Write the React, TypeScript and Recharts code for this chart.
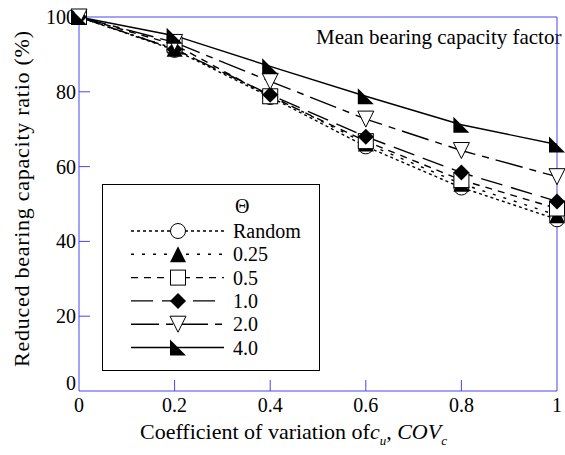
import React from 'react';
import { LineChart, Line, XAxis, YAxis, ReferenceLine, Legend, Customized } from 'recharts';

const covValues = [0, 0.2, 0.4, 0.6, 0.8, 1.0];
const xTicks = [0, 0.2, 0.4, 0.6, 0.8, 1];
const yTicks = [0, 20, 40, 60, 80, 100];

const randomVals = [100, 91.2, 78.6, 65.4, 54.4, 45.9];
const theta025Vals = [100, 91.5, 79.0, 66.2, 55.4, 47.0];
const theta05Vals = [100, 92.6, 78.8, 66.8, 56.4, 48.8];
const theta1Vals = [100, 91.4, 79.2, 68.0, 58.4, 50.7];
const theta2Vals = [100, 93.2, 82.8, 72.7, 64.3, 57.3];
const theta4Vals = [100, 95.0, 86.8, 78.8, 71.2, 65.9];

const seriesNames = ['Random', '0.25', '0.5', '1.0', '2.0', '4.0'];

const data = covValues.map((cov, i) => ({
  cov,
  s0: randomVals[i],
  s1: theta025Vals[i],
  s2: theta05Vals[i],
  s3: theta1Vals[i],
  s4: theta2Vals[i],
  s5: theta4Vals[i],
}));

const AXIS = '#4646f0';
const FONT = 'Liberation Serif';
const LEFT = 79;
const BOTTOM = 391;

const dashes = ['3 3', '3 8', '7 6', '22 9', '28 7 7 7', undefined];

// marker shapes
const drawMarker = (kind: number, cx: number, cy: number, key?: string | number) => {
  const s = 8;
  switch (kind) {
    case 0:
      return <circle key={key} cx={cx} cy={cy} r={7.5} fill="#fff" stroke="#000" strokeWidth={1} />;
    case 1:
      return <path key={key} d={`M${cx},${cy - s} L${cx + s},${cy + s} L${cx - s},${cy + s} Z`} fill="#000" />;
    case 2:
      return <rect key={key} x={cx - 7.5} y={cy - 7.5} width={15} height={15} fill="#fff" stroke="#000" strokeWidth={1} />;
    case 3:
      return <path key={key} d={`M${cx},${cy - s} L${cx + s},${cy} L${cx},${cy + s} L${cx - s},${cy} Z`} fill="#000" />;
    case 4:
      return <path key={key} d={`M${cx - s},${cy - s} L${cx + s},${cy - s} L${cx},${cy + s} Z`} fill="#fff" stroke="#000" strokeWidth={1} />;
    default:
      return <path key={key} d={`M${cx - s},${cy - s} L${cx + s},${cy + s} L${cx - s},${cy + s} Z`} fill="#000" />;
  }
};

const makeDot = (kind: number) => (props: any) => drawMarker(kind, props.cx, props.cy, `${kind}-${props.index}`);

const YTick = (props: any) => {
  const { y, payload } = props;
  const v = payload.value;
  return (
    <g>
      {v !== 0 && v !== 100 && <line x1={LEFT} x2={LEFT + 11} y1={y} y2={y} stroke={AXIS} strokeWidth={1} />}
      <text x={LEFT - 3} y={v === 0 ? y - 1 : y + 7} textAnchor="end" fontSize={20} fontFamily={FONT} fill="#000">
        {v}
      </text>
    </g>
  );
};

const XTick = (props: any) => {
  const { x, payload } = props;
  const v = payload.value;
  return (
    <g>
      {v !== 0 && v !== 1 && <line x1={x} x2={x} y1={BOTTOM} y2={BOTTOM - 11} stroke={AXIS} strokeWidth={1} />}
      <text x={x} y={BOTTOM + 21} textAnchor="middle" fontSize={20} fontFamily={FONT} fill="#000">
        {v}
      </text>
    </g>
  );
};

const LegendBox = () => {
  const rowY = (i: number) => 47 + i * 23.3;
  return (
    <svg width={218} height={187} style={{ display: 'block' }}>
      <rect x={0.5} y={0.5} width={217} height={186} fill="#fff" stroke="#000" strokeWidth={1} />
      <text x={133} y={29} fontSize={20} fontFamily={FONT} fill="#000">Θ</text>
      {seriesNames.map((name, i) => (
        <g key={name}>
          <line x1={29} x2={122} y1={rowY(i)} y2={rowY(i)} stroke="#000" strokeWidth={1.4} strokeDasharray={dashes[i]} />
          {drawMarker(i, 76, rowY(i))}
          <text x={131} y={rowY(i) + 7} fontSize={20} fontFamily={FONT} fill="#000">{name}</text>
        </g>
      ))}
    </svg>
  );
};

const Texts = () => (
  <g fontFamily={FONT} fill="#000">
    <text x={316} y={44} fontSize={21} fontFamily={FONT}>Mean bearing capacity factor</text>
    <text x={140} y={439} fontSize={22} fontFamily={FONT}>
      Coefficient of variation of
      <tspan fontStyle="italic">c</tspan>
      <tspan fontStyle="italic" fontSize={13} dy={6}>u</tspan>
      <tspan dy={-6}>, </tspan>
      <tspan fontStyle="italic">COV</tspan>
      <tspan fontStyle="italic" fontSize={13} dy={6}>c</tspan>
    </text>
    <text
      x={29}
      y={199}
      fontSize={22}
      fontFamily={FONT}
      textAnchor="middle"
      textLength={336}
      lengthAdjust="spacing"
      transform="rotate(-90 29 199)"
    >
      Reduced bearing capacity ratio (%)
    </text>
  </g>
);

export default function App() {
  return (
    <div style={{ position: 'absolute', left: 0, top: 0, width: 565, height: 455, background: '#fff' }}>
      <LineChart width={565} height={455} data={data} margin={{ top: 17, right: 8, bottom: 0, left: 0 }}>
        <XAxis
          dataKey="cov"
          type="number"
          domain={[0, 1]}
          ticks={xTicks}
          height={64}
          stroke={AXIS}
          tickLine={false}
          tick={<XTick />}
        />
        <YAxis
          type="number"
          domain={[0, 100]}
          ticks={yTicks}
          width={79}
          stroke={AXIS}
          tickLine={false}
          tick={<YTick />}
        />
        <ReferenceLine y={100} stroke={AXIS} />
        <ReferenceLine x={1} stroke={AXIS} />
        {seriesNames.map((name, i) => (
          <Line
            key={name}
            dataKey={`s${i}`}
            name={name}
            stroke="#000"
            strokeWidth={1.4}
            strokeDasharray={dashes[i]}
            dot={makeDot(i)}
            activeDot={false}
            isAnimationActive={false}
          />
        ))}
        <Legend
          layout="horizontal"
          verticalAlign="middle"
          align="center"
          content={() => <LegendBox />}
          wrapperStyle={{ left: 102, top: 184, width: 218, height: 187 }}
        />
        <Customized component={Texts} />
      </LineChart>
    </div>
  );
}
